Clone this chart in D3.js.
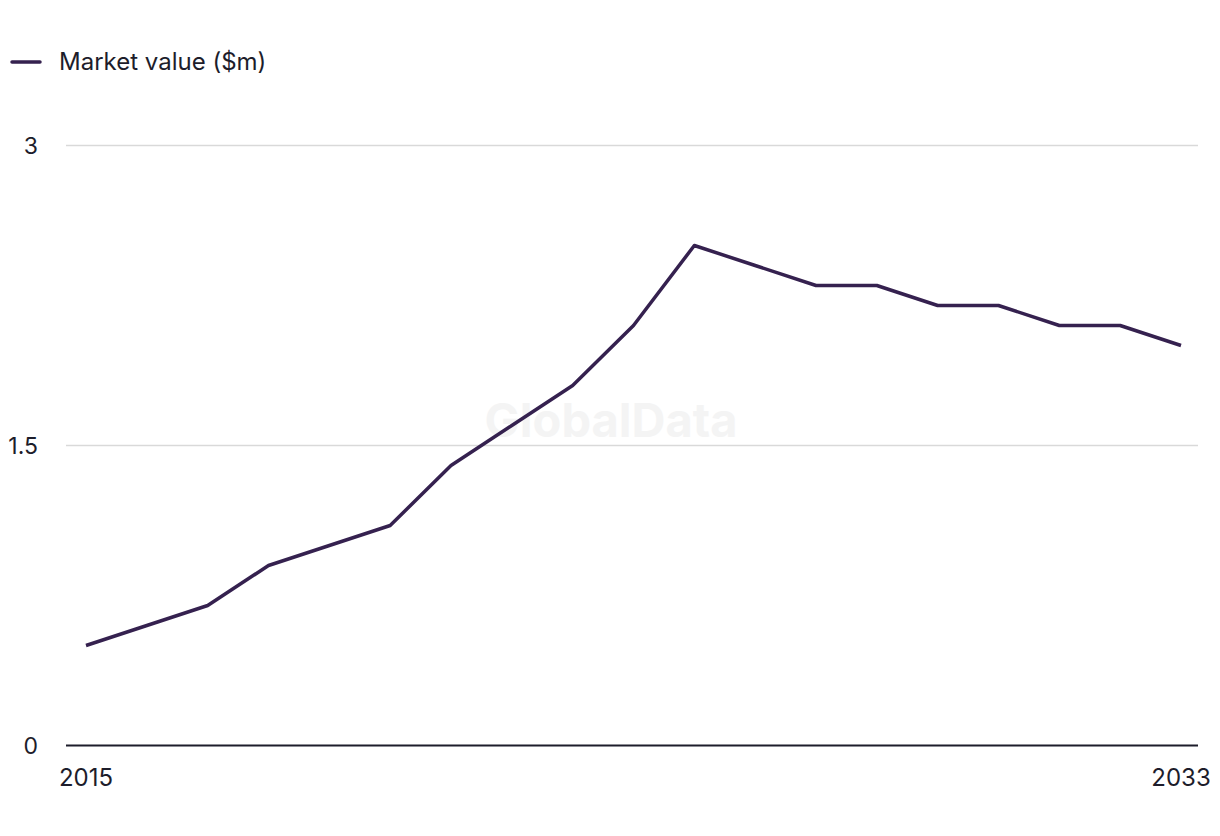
<!DOCTYPE html>
<html>
<head>
<meta charset="utf-8">
<script src="https://cdn.jsdelivr.net/npm/d3@7"></script>
<style>
  body { margin: 0; background: #fff; }
  text { font-family: Inter, "Noto Sans", sans-serif; fill: #1d1d2b; }
</style>
</head>
<body>
<script>
var width = 1220;
var height = 836;

// data
var years = [2015, 2016, 2017, 2018, 2019, 2020, 2021, 2022, 2023, 2024,
             2025, 2026, 2027, 2028, 2029, 2030, 2031, 2032, 2033];
var marketValue = [0.5, 0.6, 0.7, 0.9, 1.0, 1.1, 1.4, 1.6, 1.8, 2.1,
                   2.5, 2.4, 2.3, 2.3, 2.2, 2.2, 2.1, 2.1, 2.0];
var yTicks = [0, 1.5, 3];
var xTickLabels = [2015, 2033];
var seriesName = "Market value ($m)";

var lineColor = "#35214f";

var x = d3.scaleLinear().domain([2015, 2033]).range([86, 1181]);
var y = d3.scaleLinear().domain([0, 3]).range([745.5, 145.5]);

var svg = d3.select("body").append("svg")
  .attr("width", width)
  .attr("height", height);

// watermark
svg.append("text")
  .attr("x", 611).attr("y", 437)
  .attr("text-anchor", "middle")
  .style("font-size", "47px")
  .style("font-weight", "700")
  .style("fill", "#f4f4f4")
  .text("GlobalData");

// gridlines
svg.append("g").selectAll("line")
  .data(yTicks.filter(function (d) { return d > 0; }))
  .enter().append("line")
  .attr("x1", 66).attr("x2", 1198)
  .attr("y1", function (d) { return y(d); })
  .attr("y2", function (d) { return y(d); })
  .style("stroke", "#d9d9d9")
  .style("stroke-width", 1.5);

// y tick labels
svg.append("g").selectAll("text")
  .data(yTicks)
  .enter().append("text")
  .attr("x", 38)
  .attr("y", function (d) { return y(d); })
  .attr("dy", "0.35em")
  .attr("text-anchor", "end")
  .style("font-size", "23px")
  .text(function (d) { return d; });

// baseline
svg.append("line")
  .attr("x1", 66).attr("x2", 1198)
  .attr("y1", y(0)).attr("y2", y(0))
  .style("stroke", "#1d1d2b")
  .style("stroke-width", 2);

// x tick labels
svg.append("g").selectAll("text")
  .data(xTickLabels)
  .enter().append("text")
  .attr("x", function (d) { return x(d); })
  .attr("y", 786)
  .attr("text-anchor", "middle")
  .style("font-size", "24px")
  .text(function (d) { return d; });

// the line
var line = d3.line()
  .x(function (d, i) { return x(years[i]); })
  .y(function (d) { return y(d); });

svg.append("path")
  .datum(marketValue)
  .attr("d", line)
  .style("fill", "none")
  .style("stroke", lineColor)
  .style("stroke-width", 3.5)
  .style("stroke-linejoin", "round");

// legend
svg.append("line")
  .attr("x1", 12).attr("x2", 40)
  .attr("y1", 62).attr("y2", 62)
  .style("stroke", lineColor)
  .style("stroke-width", 3.5)
  .style("stroke-linecap", "round");

svg.append("text")
  .attr("x", 59).attr("y", 62)
  .attr("dy", "0.35em")
  .style("font-size", "24px")
  .text(seriesName);
</script>
</body>
</html>
